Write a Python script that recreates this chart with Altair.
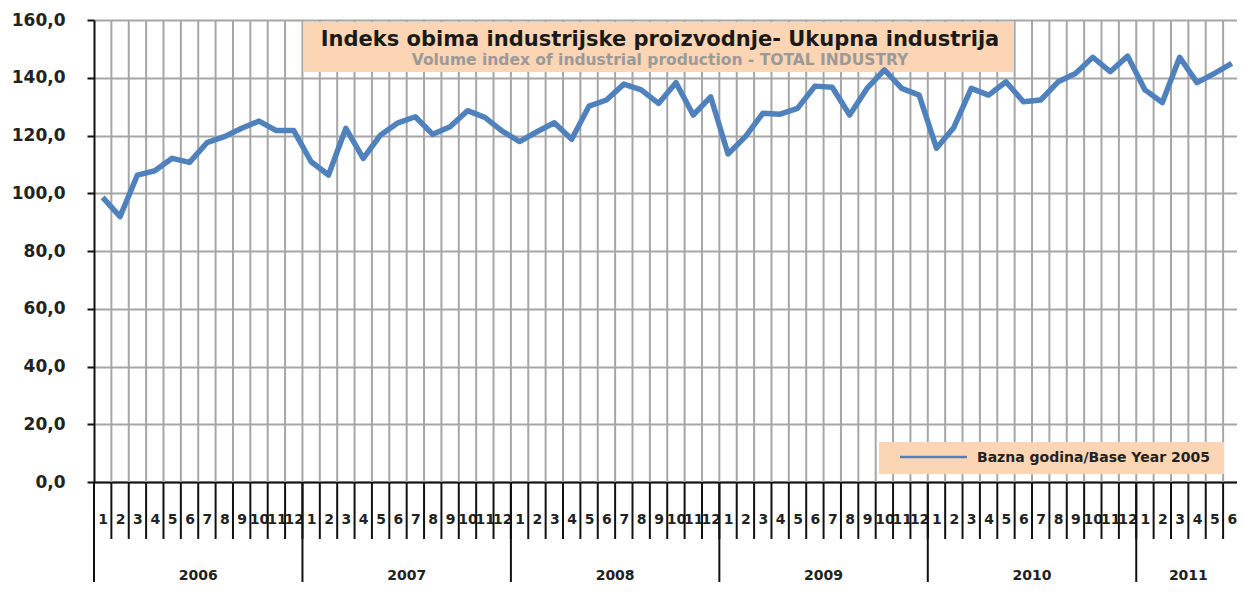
import altair as alt
import pandas as pd

# ---- data ----
years = ["2006", "2007", "2008", "2009", "2010", "2011"]
months_per_year = [12, 12, 12, 12, 12, 6]
values = [
    # 2006
    98.6, 91.9, 106.3, 107.8, 112.1, 110.7, 117.5, 119.6, 122.5, 125.0, 121.7, 121.7,
    # 2007
    110.9, 106.3, 122.5, 112.1, 120.2, 124.4, 126.5, 120.4, 123.0, 128.6, 126.3, 121.5,
    # 2008
    117.9, 121.3, 124.4, 118.7, 130.2, 132.3, 137.8, 135.8, 131.1, 138.3, 127.1, 133.4,
    # 2009
    113.6, 119.6, 127.7, 127.4, 129.4, 137.1, 136.7, 127.1, 136.3, 142.7, 136.3, 134.0,
    # 2010
    115.6, 122.8, 136.3, 134.0, 138.6, 131.7, 132.3, 138.6, 141.5, 147.1, 142.1, 147.5,
    # 2011
    135.8, 131.4, 147.1, 138.3, 141.5, 145.0,
]
y_ticks = [0, 20, 40, 60, 80, 100, 120, 140, 160]
title_text = "Indeks obima industrijske proizvodnje- Ukupna industrija"
subtitle_text = "Volume index of industrial production - TOTAL INDUSTRY"
legend_text = "Bazna godina/Base Year 2005"

N = len(values)
W, H = 1143, 462
FONT = "DejaVu Sans"
BLUE = "#4F81BD"
GRID = "#A6A6A6"
PEACH = "#FCD5B4"

line_df = pd.DataFrame({"idx": range(N), "value": values})
line_df["xc"] = line_df["idx"] + 0.5

bounds_df = pd.DataFrame({"b": list(range(1, N))})
year_starts = [sum(months_per_year[:i]) for i in range(len(years))]
year_df = pd.DataFrame({
    "year": years,
    "start": year_starts,
    "center": [s + m / 2 for s, m in zip(year_starts, months_per_year)],
})

x_scale = alt.Scale(domain=[0, 65.8], nice=False, zero=False)
y_scale = alt.Scale(domain=[0, 160], nice=False)

x_axis = alt.Axis(
    values=[i + 0.5 for i in range(N)],
    labelExpr="toString(floor(datum.value) % 12 + 1)",
    ticks=False, grid=False, title=None,
    labelOverlap=False, labelBound=False, labelFlush=False,
    labelPadding=30, labelFontSize=14, labelFontWeight="bold",
    labelColor="#222222", labelFont=FONT,
    domainColor="#111111", domainWidth=2,
)
y_axis = alt.Axis(
    values=y_ticks,
    labelExpr="replace(format(datum.value, '.1f'), '.', ',')",
    title=None, grid=True, gridColor=GRID, gridWidth=2,
    tickSize=7, tickWidth=2, tickColor="#111111",
    domainColor="#111111", domainWidth=2,
    labelPadding=22, labelFontSize=17, labelFontWeight="bold",
    labelColor="#222222", labelFont=FONT,
)

X = lambda f: alt.X(f, type="quantitative", scale=x_scale, axis=x_axis)

# vertical grid lines inside the plot
vgrid = alt.Chart(bounds_df).mark_rule(color=GRID, strokeWidth=2).encode(
    x=X("b"),
    y=alt.Y(datum=0, type="quantitative", scale=y_scale, axis=y_axis),
    y2=alt.Y2(datum=160),
)

one = pd.DataFrame({"k": [0]})

title_box = alt.Chart(one).mark_rect(color=PEACH).encode(
    x=alt.value(209), x2=alt.value(919), y=alt.value(2), y2=alt.value(52)
)
title_mark = alt.Chart(pd.DataFrame({"t": [title_text]})).mark_text(
    font=FONT, fontSize=21, fontWeight="bold", color="#1a1a1a",
    align="center", baseline="middle",
).encode(x=alt.value(566), y=alt.value(20), text="t:N")
subtitle_mark = alt.Chart(pd.DataFrame({"t": [subtitle_text]})).mark_text(
    font=FONT, fontSize=15.5, fontWeight="bold", color="#9A9A9A",
    align="center", baseline="middle",
).encode(x=alt.value(566), y=alt.value(40), text="t:N")

legend_box = alt.Chart(one).mark_rect(color=PEACH).encode(
    x=alt.value(785), x2=alt.value(1130), y=alt.value(422), y2=alt.value(454)
)
legend_line = alt.Chart(one).mark_rule(color=BLUE, strokeWidth=2.5).encode(
    x=alt.value(806), x2=alt.value(873), y=alt.value(437)
)
legend_label = alt.Chart(pd.DataFrame({"t": [legend_text]})).mark_text(
    font=FONT, fontSize=14, fontWeight="bold", color="#222222",
    align="left", baseline="middle",
).encode(x=alt.value(883), y=alt.value(438), text="t:N")

line = alt.Chart(line_df).mark_line(color=BLUE, strokeWidth=5.5, strokeJoin="round").encode(
    x=X("xc"),
    y=alt.Y("value:Q", scale=y_scale, axis=y_axis),
)

# month separators below the axis
month_ticks = alt.Chart(bounds_df).mark_rule(color="#111111", strokeWidth=2).encode(
    x=X("b"), y=alt.value(H), y2=alt.value(H + 57)
)
# year dividers
year_div = alt.Chart(year_df).mark_rule(color="#111111", strokeWidth=2).encode(
    x=X("start"), y=alt.value(H), y2=alt.value(H + 100)
)
year_text = alt.Chart(year_df).mark_text(
    font=FONT, fontSize=14, fontWeight="bold", color="#222222",
    align="center", baseline="middle",
).encode(x=X("center"), y=alt.value(H + 94), text="year:N")

chart = alt.layer(
    vgrid, title_box, title_mark, subtitle_mark,
    legend_box, legend_line, legend_label,
    line, month_ticks, year_div, year_text,
).properties(
    width=W, height=H,
    padding={"left": 86, "top": 12, "right": 0, "bottom": 100},
    autosize=alt.AutoSizeParams(type="none"),
    background="white",
).configure_view(stroke=None)

chart.save("out.html", embed_options={"renderer": "svg", "actions": False})
